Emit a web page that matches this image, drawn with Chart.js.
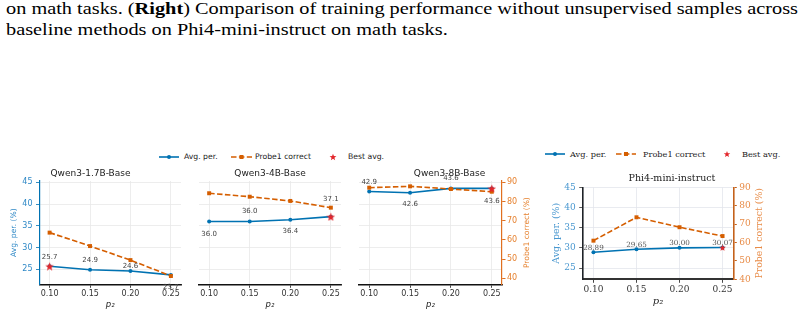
<!DOCTYPE html>
<html>
<head>
<meta charset="utf-8">
<script src="https://cdn.jsdelivr.net/npm/chart.js"></script>
<style>
  html, body { margin: 0; padding: 0; background: #fff; }
  body { width: 804px; height: 316px; position: relative; overflow: hidden; }
  .cap { position: absolute; left: 6px; font-family: 'Liberation Serif', 'Times New Roman', serif; font-size: 17px; line-height: 20px; color: #000; white-space: nowrap; transform-origin: 0 0; }
  canvas { position: absolute; }
  .lg { position: absolute; line-height: 10px; color: #222; white-space: nowrap; }
  .lg.sans { font-family: 'DejaVu Sans', sans-serif; font-size: 7.7px; }
  .lg.serif { font-family: 'DejaVu Serif', serif; font-size: 8.2px; }
  svg { position: absolute; overflow: visible; }
</style>
</head>
<body>
<div class="cap" id="cap1" style="top:-1px">on math tasks. (<b>Right</b>) Comparison of training performance without unsupervised samples across</div>
<div class="cap" id="cap2" style="top:19.5px">baseline methods on Phi4-mini-instruct on math tasks.</div>

<!-- left figure legend -->
<svg style="left:159px;top:153px" width="20" height="8"><line x1="0" y1="4" x2="20" y2="4" stroke="#0072B2" stroke-width="1.6"/><circle cx="10" cy="4" r="2" fill="#0072B2"/></svg>
<span class="lg sans" style="left:184px;top:152px">Avg. per.</span>
<svg style="left:231px;top:153px" width="21" height="8"><line x1="0" y1="4" x2="21" y2="4" stroke="#D55E00" stroke-width="1.6" stroke-dasharray="5.5 2.4"/><rect x="8.5" y="2" width="4" height="4" fill="#D55E00"/></svg>
<span class="lg sans" style="left:255px;top:152px">Probe1 correct</span>
<svg style="left:329px;top:153px" width="8" height="8"><polygon id="legStar" fill="#e3262b"/></svg>
<span class="lg sans" style="left:348px;top:152px">Best avg.</span>

<!-- right figure legend -->
<svg style="left:545px;top:150px" width="20" height="8"><line x1="0" y1="4" x2="20" y2="4" stroke="#0072B2" stroke-width="1.6"/><circle cx="10" cy="4" r="2" fill="#0072B2"/></svg>
<span class="lg serif" style="left:570px;top:149px">Avg. per.</span>
<svg style="left:616px;top:150px" width="20" height="8"><line x1="0" y1="4" x2="20" y2="4" stroke="#D55E00" stroke-width="1.6" stroke-dasharray="5.5 2.4"/><rect x="8" y="2" width="4" height="4" fill="#D55E00"/></svg>
<span class="lg serif" style="left:643px;top:149px">Probe1 correct</span>
<svg style="left:723px;top:150px" width="8" height="8"><polygon id="legStar2" fill="#e3262b"/></svg>
<span class="lg serif" style="left:742px;top:149px">Best avg.</span>

<canvas id="c1" width="190" height="151" style="left:0px;top:165px"></canvas>
<canvas id="c2" width="160" height="151" style="left:190px;top:165px"></canvas>
<canvas id="c3" width="190" height="151" style="left:350px;top:165px"></canvas>
<canvas id="c4" width="264" height="144" style="left:540px;top:172px"></canvas>

<script>
// x positions (p2) and tick sets
const pValues = [0.10, 0.15, 0.20, 0.25];
const pTicks = [0.10, 0.15, 0.20, 0.25];
const avgTicks = [25, 30, 35, 40, 45];
const probeTicks = [40, 50, 60, 70, 80, 90];

// Qwen3 panels (left figure)
const qwen17Avg = [25.7, 24.9, 24.6, 23.7];
const qwen17Probe = [63.8, 56.8, 49.5, 41.2];
const qwen4Avg = [36.0, 36.0, 36.4, 37.1];
const qwen4Probe = [84.3, 82.5, 80.3, 76.8];
const qwen8Avg = [42.9, 42.6, 43.6, 43.6];
const qwen8Probe = [87.2, 87.9, 86.5, 85.1];

// Phi4-mini-instruct (right figure)
const phiAvg = [28.89, 29.65, 30.00, 30.07];
const phiProbe = [61.0, 73.7, 68.3, 63.5];

const BLUE = '#0072B2';
const ORANGE = '#D55E00';
const RED = '#e3262b';

// stretch the caption lines like the justified paper text
(function fitCaption() {
  const c1 = document.getElementById('cap1');
  const c2 = document.getElementById('cap2');
  const k = 792 / c1.getBoundingClientRect().width;
  c1.style.transform = c2.style.transform = 'scaleX(' + k + ')';
})();

function starPoints(cx, cy, R) {
  const pts = [];
  for (let i = 0; i < 10; i++) {
    const a = -Math.PI / 2 + i * Math.PI / 5;
    const r = i % 2 ? R * 0.42 : R;
    pts.push([cx + r * Math.cos(a), cy + r * Math.sin(a)]);
  }
  return pts;
}

function starMarker(size) {
  const c = document.createElement('canvas');
  c.width = c.height = size;
  const g = c.getContext('2d');
  g.fillStyle = RED;
  g.beginPath();
  starPoints(size / 2, size / 2 + size * 0.06, size / 2).forEach(([x, y]) => g.lineTo(x, y));
  g.closePath();
  g.fill();
  return c;
}

document.getElementById('legStar').setAttribute('points', starPoints(4, 4.3, 3.6).map(p => p.join(',')).join(' '));
document.getElementById('legStar2').setAttribute('points', starPoints(4, 4.3, 3.4).map(p => p.join(',')).join(' '));

// value labels next to the avg points
const valueLabels = {
  id: 'valueLabels',
  afterDatasetsDraw(chart, args, o) {
    const { ctx, scales: { x, y } } = chart;
    ctx.save();
    ctx.font = o.font;
    ctx.fillStyle = o.color;
    ctx.textAlign = 'center';
    ctx.textBaseline = 'middle';
    o.values.forEach((v, i) => {
      ctx.fillText(v.toFixed(o.digits), x.getPixelForValue(pValues[i]), y.getPixelForValue(v) + o.dy[i]);
    });
    ctx.restore();
  }
};

// matplotlib-style right ylabel (reads bottom to top)
const sideTitle = {
  id: 'sideTitle',
  afterDraw(chart, args, o) {
    if (!o.text) return;
    const { ctx, chartArea } = chart;
    ctx.save();
    ctx.translate(o.x, (chartArea.top + chartArea.bottom) / 2);
    ctx.rotate(-Math.PI / 2);
    ctx.font = o.font;
    ctx.fillStyle = o.color;
    ctx.textAlign = 'center';
    ctx.textBaseline = 'middle';
    ctx.fillText(o.text, 0, 0);
    ctx.restore();
  }
};

function buildPanel(id, o) {
  const s = o.style;
  const pts = vals => pValues.map((x, i) => ({ x, y: vals[i] }));
  const f = size => ({ family: s.family, size });
  return new Chart(document.getElementById(id), {
    type: 'line',
    data: {
      datasets: [
        { label: 'Best avg.', data: [{ x: pValues[o.best], y: o.avg[o.best] }], yAxisID: 'y', showLine: false,
          pointStyle: starMarker(o.starSize), pointRadius: o.starSize / 2, order: 0 },
        { label: 'Probe1 correct', data: pts(o.probe), yAxisID: 'y2', borderColor: ORANGE, backgroundColor: ORANGE,
          borderWidth: 1.6, borderDash: [5.5, 2.4], pointStyle: 'rect', pointRadius: 2.8, pointBorderWidth: 0, order: 1 },
        { label: 'Avg. per.', data: pts(o.avg), yAxisID: 'y', borderColor: BLUE, backgroundColor: BLUE,
          borderWidth: 1.6, pointRadius: 2, pointBorderWidth: 0, order: 2 }
      ]
    },
    options: {
      responsive: false,
      animation: false,
      devicePixelRatio: 1,
      events: [],
      clip: false,
      layout: { padding: o.padding },
      plugins: {
        legend: { display: false },
        tooltip: { enabled: false },
        title: { display: true, text: o.title, color: '#222', font: { family: s.family, size: s.titleSize, weight: 'normal' },
                 padding: o.titlePad },
        valueLabels: { values: o.avg, dy: o.labelDy, digits: o.digits, font: s.labelSize + 'px "' + s.family + '"', color: s.labelColor },
        sideTitle: o.showRight ? { text: 'Probe1 correct (%)', x: o.rightTitleX, font: s.axisTitleSize + 'px "' + s.family + '"', color: s.orangeText } : {}
      },
      scales: {
        x: {
          type: 'linear', min: 0.0875, max: 0.2625,
          afterBuildTicks: sc => { sc.ticks = pTicks.map(v => ({ value: v })); },
          afterFit: sc => { sc.height = o.xHeight; },
          ticks: { callback: v => v.toFixed(2), font: f(s.tickSize), color: '#333', padding: s.xTickPad, maxRotation: 0, autoSkip: false },
          grid: { color: s.grid, lineWidth: 0.8, tickColor: '#333', tickLength: 3.5, tickWidth: 0.9 },
          border: { color: s.xBorder, width: s.xBorderWidth },
          title: { display: true, text: 'p₂', color: '#222', font: { family: s.family, size: s.pSize, style: 'italic' },
                   padding: { top: 0, bottom: o.xTitlePad } }
        },
        y: {
          position: 'left', min: o.yMin, max: o.yMax,
          afterBuildTicks: sc => { sc.ticks = avgTicks.map(v => ({ value: v })); },
          afterFit: sc => { sc.width = o.leftWidth; },
          ticks: { display: o.showLeft, font: f(s.tickSize), color: s.blueText, padding: 3.5 },
          grid: { color: s.grid, lineWidth: 0.8, drawTicks: o.showLeft, tickColor: s.leftTick, tickLength: 3.5 },
          border: { display: o.showLeft, color: s.leftBorder, width: s.sideBorderWidth },
          title: { display: o.showLeft, text: 'Avg. per. (%)', color: s.blueText, font: f(s.axisTitleSize),
                   padding: { top: o.leftTitlePad, bottom: 0 } }
        },
        y2: {
          position: 'right', display: o.showRight, min: o.y2Min, max: o.y2Max,
          afterBuildTicks: sc => { sc.ticks = probeTicks.map(v => ({ value: v })); },
          afterFit: sc => { sc.width = o.showRight ? o.rightWidth : 0; },
          ticks: { font: f(s.tickSize), color: s.orangeText, padding: s.rightTickPad },
          grid: { drawOnChartArea: false, tickColor: s.rightBorder, tickLength: 3.5 },
          border: { color: s.rightBorder, width: s.sideBorderWidth }
        }
      }
    },
    plugins: [valueLabels, sideTitle]
  });
}

const sansStyle = {
  family: 'DejaVu Sans', titleSize: 9, tickSize: 8, labelSize: 7, labelColor: '#444', axisTitleSize: 7.6, pSize: 8.5,
  grid: '#e8e8e8', xBorder: '#111', xBorderWidth: 1.5, leftBorder: BLUE, leftTick: BLUE, rightBorder: '#e07020',
  sideBorderWidth: 1.2, blueText: '#2e88c6', orangeText: '#e6812e', xTickPad: 1.7, rightTickPad: 1.5
};
const serifStyle = {
  family: 'DejaVu Serif', titleSize: 9.5, tickSize: 9, labelSize: 7.2, labelColor: '#555', axisTitleSize: 9.4, pSize: 10,
  grid: '#e3e6ec', xBorder: '#333', xBorderWidth: 2, leftBorder: '#1e2228', leftTick: '#333', rightBorder: '#c4621c',
  sideBorderWidth: 1.6, blueText: '#4a98d0', orangeText: '#e88c48', xTickPad: 1.6, rightTickPad: 2.5
};

const leftCommon = {
  style: sansStyle, digits: 1, starSize: 9, yMin: 21.54, yMax: 45.3, y2Min: 36.9, y2Max: 90.68,
  titlePad: { top: 3.2, bottom: 2 }, xHeight: 31.7, xTitlePad: 5.9
};

buildPanel('c1', Object.assign({}, leftCommon, {
  title: 'Qwen3-1.7B-Base', avg: qwen17Avg, probe: qwen17Probe, best: 0,
  labelDy: [-9.5, -10, -5, 12], showLeft: true, showRight: false,
  leftWidth: 39.5, leftTitlePad: 9.4, padding: { left: 0, right: 9, top: 0, bottom: 0 }
}));
buildPanel('c2', Object.assign({}, leftCommon, {
  title: 'Qwen3-4B-Base', avg: qwen4Avg, probe: qwen4Probe, best: 3,
  labelDy: [12.5, -10, 11.5, -17], showLeft: false, showRight: false,
  leftWidth: 0, leftTitlePad: 0, padding: { left: 9, right: 9, top: 0, bottom: 0 }
}));
buildPanel('c3', Object.assign({}, leftCommon, {
  title: 'Qwen3-8B-Base', avg: qwen8Avg, probe: qwen8Probe, best: 3,
  labelDy: [-9, 11.5, -10, 12.5], showLeft: false, showRight: true,
  leftWidth: 0, leftTitlePad: 0, rightWidth: 38, rightTitleX: 176.7, padding: { left: 9, right: 0, top: 0, bottom: 0 }
}));
buildPanel('c4', {
  style: serifStyle, digits: 2, starSize: 7, yMin: 22.2, yMax: 45, y2Min: 40, y2Max: 90,
  title: 'Phi4-mini-instruct', avg: phiAvg, probe: phiProbe, best: 3,
  titlePad: { top: 0.6, bottom: 3.3 }, xHeight: 36.7, xTitlePad: 9,
  labelDy: [-4.5, -4.5, -4.5, -4.5], showLeft: true, showRight: true,
  leftWidth: 42.7, leftTitlePad: 11, rightWidth: 70.7, rightTitleX: 220,
  padding: { left: 0, right: 0, top: 0, bottom: 0 }
});
</script>
</body>
</html>
